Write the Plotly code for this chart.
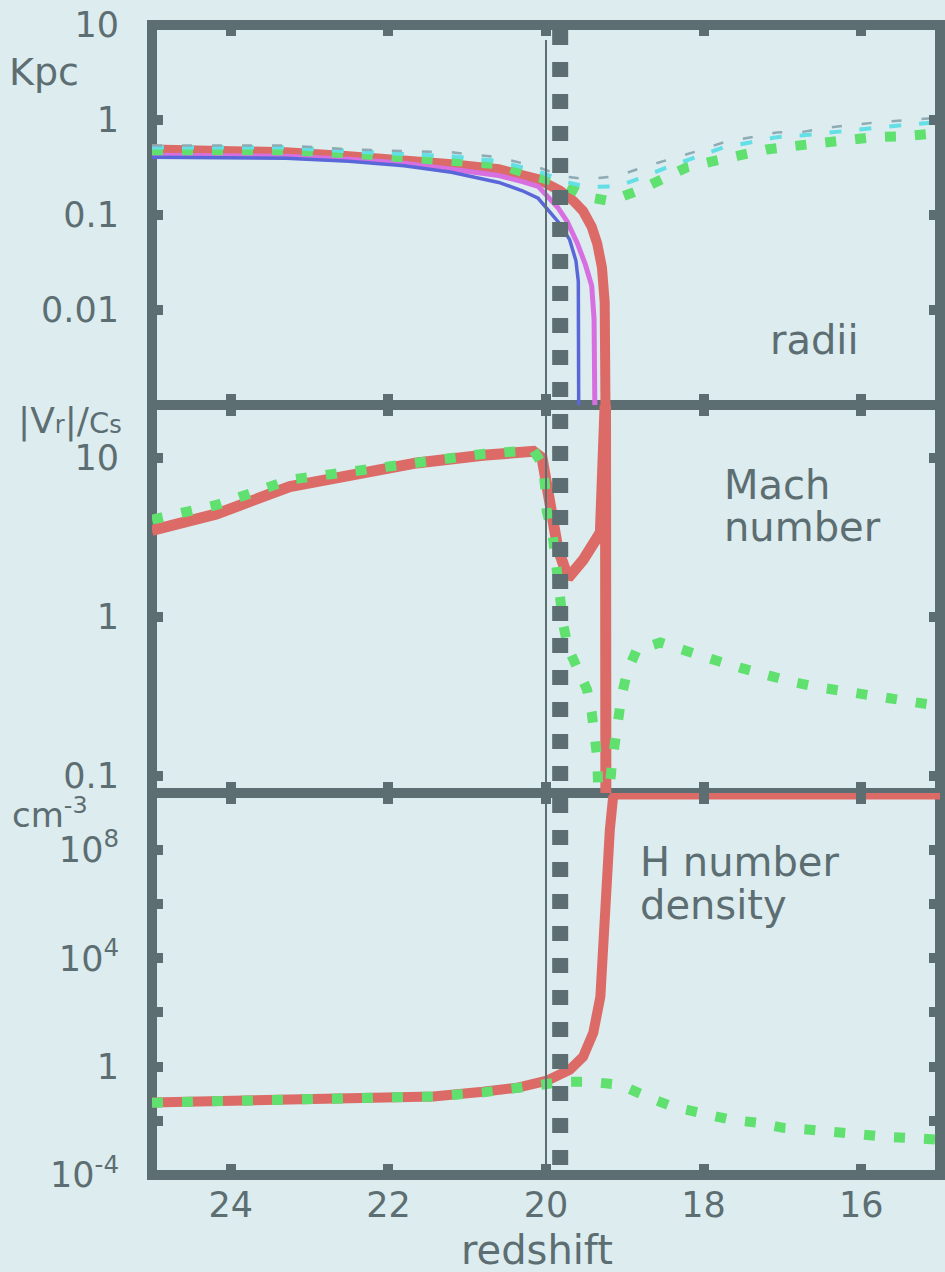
import plotly.graph_objects as go

# ---------------- data ----------------
# Top panel: radii (Kpc)
z_red_r = [25, 23.3, 22.5, 21.8, 21.2, 20.6, 20.3, 20.1, 20.0, 19.82, 19.65, 19.53, 19.42,
           19.35, 19.29, 19.255, 19.245]
r_red = [0.49, 0.457, 0.415, 0.38, 0.342, 0.303, 0.27, 0.238, 0.215, 0.18, 0.14, 0.11, 0.075,
         0.05, 0.028, 0.012, 0.0009]

z_mag_r = [25, 23.3, 22.5, 21.8, 21.2, 20.6, 20.3, 20.1, 19.99, 19.85, 19.73, 19.6, 19.5,
           19.42, 19.39, 19.38]
r_mag = [0.425, 0.415, 0.386, 0.35, 0.303, 0.26, 0.225, 0.2, 0.16, 0.12, 0.085, 0.05, 0.03,
         0.018, 0.008, 0.0009]

z_blue_r = [25, 23.3, 22.5, 21.8, 21.2, 20.6, 20.3, 20.1, 19.95, 19.82, 19.7, 19.62, 19.59,
            19.585]
r_blue = [0.405, 0.395, 0.367, 0.33, 0.282, 0.22, 0.18, 0.15, 0.107, 0.08, 0.055, 0.033, 0.02,
          0.0009]

z_green_r = [25, 23.3, 22.5, 21.2, 20.6, 20.1, 19.82, 19.48, 19.19, 18.85, 18.55, 18.21,
             17.89, 17.54, 17.20, 16.87, 16.52, 16.18, 15.85, 15.51, 15.15, 15.0]
r_green = [0.48, 0.48, 0.446, 0.386, 0.342, 0.25, 0.22, 0.155, 0.14, 0.178, 0.24, 0.318,
           0.367, 0.435, 0.49, 0.53, 0.58, 0.60, 0.66, 0.67, 0.72, 0.73]

z_cyan_r = [25, 23.3, 22.5, 21.2, 20.6, 20.1, 19.78, 19.48, 19.10, 18.77, 18.43, 18.09,
            17.75, 17.41, 17.07, 16.74, 16.40, 16.05, 15.72, 15.38, 15.09, 15.0]
r_cyan = [0.515, 0.515, 0.468, 0.415, 0.367, 0.289, 0.227, 0.197, 0.20, 0.25, 0.326, 0.415,
          0.515, 0.58, 0.66, 0.69, 0.74, 0.79, 0.855, 0.90, 0.94, 0.95]

z_gray_r = [25, 23.3, 22.5, 21.2, 20.6, 20.1, 19.78, 19.48, 19.10, 18.77, 18.43, 18.09,
            17.75, 17.41, 17.07, 16.74, 16.40, 16.05, 15.72, 15.38, 15.0]
r_gray = [0.54, 0.54, 0.49, 0.457, 0.405, 0.318, 0.256, 0.238, 0.256, 0.318, 0.386, 0.468,
          0.58, 0.66, 0.74, 0.75, 0.835, 0.90, 0.96, 1.0, 1.06]

# Middle panel: Mach number |Vr|/Cs
z_red_m = [25, 24.18, 23.25, 22.49, 21.64, 20.8, 20.16, 20.05, 19.99, 19.92, 19.85, 19.72,
           19.53, 19.31, 19.29, 19.27, 19.245, 19.24]
m_red = [3.5, 4.45, 6.6, 7.8, 9.3, 10.4, 11.0, 10.0, 7.1, 4.4, 2.7, 1.76,
         2.28, 3.4, 8.8, 25, 25, 0.05]

z_green_m = [25, 24.18, 23.25, 22.49, 21.64, 20.8, 20.16, 20.04, 20.01, 19.99, 19.92, 19.89,
             19.82, 19.78, 19.72, 19.59, 19.48, 19.42, 19.38, 19.35, 19.34, 19.19, 19.16,
             19.12, 19.10, 19.04, 18.97, 18.85, 18.55, 18.21, 17.88, 17.54, 17.20, 16.87,
             16.52, 16.18, 15.85, 15.51, 15.17, 15.0]
m_green = [4.1, 5.06, 7.3, 8.2, 9.4, 10.6, 11.2, 9.0, 6.5, 4.6, 3.4, 2.45,
           1.24, 0.89, 0.64, 0.48, 0.35, 0.25, 0.18, 0.13, 0.091, 0.087, 0.123,
           0.17, 0.235, 0.32, 0.45, 0.62, 0.69, 0.6, 0.54, 0.48, 0.43, 0.39,
           0.36, 0.34, 0.32, 0.30, 0.28, 0.275]

# Bottom panel: H number density (cm^-3)
z_red_n = [25, 22.9, 21.43, 20.8, 20.37, 19.99, 19.70, 19.53, 19.40, 19.31, 19.28, 19.23,
           19.19, 19.15, 19.12, 15.0]
n_red = [0.0473, 0.0596, 0.0794, 0.1175, 0.166, 0.302, 0.759, 2.29, 17.8, 380, 2.6e4, 7.9e6,
         5.5e8, 8.0e9, 1.1e10, 1.1e10]

z_green_n = [25, 22.9, 21.43, 20.8, 20.37, 19.99, 19.78, 19.44, 19.06, 18.72, 18.39, 18.05,
             17.66, 17.32, 16.99, 16.65, 16.31, 15.98, 15.63, 15.25, 15.0]
n_green = [0.0468, 0.0589, 0.0794, 0.112, 0.151, 0.224, 0.275, 0.275, 0.214, 0.0776, 0.0331,
           0.02, 0.011, 0.0085, 0.0055, 0.0047, 0.0036, 0.003, 0.0025, 0.0022, 0.002]

x_ticks = [24, 22, 20, 18, 16]
x_ticklabels = ["24", "22", "20", "18", "16"]
y1_ticks = [10, 1, 0.1, 0.01]
y1_ticklabels = ["10", "1", "0.1", "0.01"]
y2_ticks = [10, 1, 0.1]
y2_ticklabels = ["10", "1", "0.1"]
y3_ticks = [1e8, 1e6, 1e4, 1e2, 1, 1e-2, 1e-4]
y3_ticklabels = ["10<sup>8</sup>", "", "10<sup>4</sup>", "", "1", "", "10<sup>-4</sup>"]

z_collapse = 19.82   # thick dashed marker line
z_ref = 20.0         # thin reference line

# ---------------- style ----------------
BG = "#dcecef"
DARK = "#5d6e72"
RED = "#dc6b67"
GREEN = "#5fe06f"
BLUE = "#5a67d8"
MAG = "#d86fe0"
CYAN = "#63dfe6"
GRAY = "#8eaab2"
FONT = "DejaVu Sans"

W, H = 945, 1272
ML, MR, MT, MB = 152, 5, 25, 97
PH = H - MT - MB

def py(pix):
    return (H - MB - pix) / PH

dom_top = [py(405), 1.0]
dom_mid = [py(793), py(405)]
dom_bot = [0.0, py(793)]

fig = go.Figure()

def add(x, y, color, width, dash, xa, ya):
    fig.add_trace(go.Scatter(x=x, y=y, mode="lines", xaxis=xa, yaxis=ya,
                             line=dict(color=color, width=width, dash=dash),
                             hoverinfo="skip", showlegend=False))

# top
add(z_red_r, r_red, RED, 10, "solid", "x", "y")
add(z_mag_r, r_mag, MAG, 5, "solid", "x", "y")
add(z_blue_r, r_blue, BLUE, 3.5, "solid", "x", "y")
add(z_green_r, r_green, GREEN, 10, "11px,19px", "x", "y")
add(z_cyan_r, r_cyan, CYAN, 4, "12px,18px", "x", "y")
add(z_gray_r, r_gray, GRAY, 2.5, "10px,20px", "x", "y")
# middle
add(z_red_m, m_red, RED, 11, "solid", "x2", "y2")
add(z_green_m, m_green, GREEN, 10, "11px,19px", "x2", "y2")
# bottom
add(z_red_n, n_red, RED, 10, "solid", "x3", "y3")
add(z_green_n, n_green, GREEN, 10, "11px,19px", "x3", "y3")

xcommon = dict(range=[25, 15], tickvals=x_ticks, ticktext=x_ticklabels, ticks="inside",
               ticklen=11, tickwidth=10, tickcolor=DARK, mirror="ticks", showline=False,
               showgrid=False, zeroline=False, domain=[0, 1],
               tickfont=dict(family=FONT, size=35, color=DARK))
ycommon = dict(type="log", ticks="inside", ticklen=11, tickwidth=10, tickcolor=DARK,
               mirror="ticks", showline=False, showgrid=False, zeroline=False,
               tickfont=dict(family=FONT, size=35, color=DARK), ticklabelstandoff=32)

fig.update_layout(
    xaxis=dict(xcommon, anchor="y", showticklabels=False),
    xaxis2=dict(xcommon, anchor="y2", showticklabels=False, matches="x"),
    xaxis3=dict(xcommon, anchor="y3", showticklabels=True, matches="x", ticklabelstandoff=6),
    yaxis=dict(ycommon, anchor="x", domain=dom_top, range=[-3, 1],
               tickvals=y1_ticks, ticktext=y1_ticklabels),
    yaxis2=dict(ycommon, anchor="x2", domain=dom_mid, range=[-1.107, 1.333],
                tickvals=y2_ticks, ticktext=y2_ticklabels),
    yaxis3=dict(ycommon, anchor="x3", domain=dom_bot, range=[-4, 10.1],
                tickvals=y3_ticks, ticktext=y3_ticklabels),
    width=W, height=H,
    margin=dict(l=ML, r=MR, t=MT, b=MB),
    paper_bgcolor=BG, plot_bgcolor="rgba(0,0,0,0)",
    showlegend=False,
)

shapes = []
for d in (dom_top, dom_mid, dom_bot):
    shapes.append(dict(type="rect", xref="paper", yref="paper", x0=0, x1=1, y0=d[0], y1=d[1],
                       line=dict(color=DARK, width=10), layer="below"))
shapes.append(dict(type="line", xref="x3", yref="paper", x0=z_ref, x1=z_ref,
                   y0=py(40), y1=0, line=dict(color=DARK, width=2), layer="above"))
shapes.append(dict(type="line", xref="x3", yref="paper", x0=z_collapse, x1=z_collapse,
                   y0=py(30), y1=py(1170), line=dict(color=DARK, width=16, dash="15px,17px"),
                   layer="above"))
fig.update_layout(shapes=shapes)

def px_x(pix):
    return (pix - ML) / (W - ML - MR)

ann_font = dict(family=FONT, size=40, color=DARK)
anns = [
    dict(text="Kpc", x=px_x(44), y=py(72), xanchor="center", yanchor="middle"),
    dict(text="|V<span style='font-size:24px'>r</span>|/<span style='font-size:29px'>C</span><span style='font-size:24px'>s</span>",
         x=px_x(70), y=py(421), xanchor="center", yanchor="middle"),
    dict(text="cm<sup>-3</sup>", x=px_x(50), y=py(813), xanchor="center", yanchor="middle"),
    dict(text="redshift", x=px_x(537), y=py(1250), xanchor="center", yanchor="middle"),
    dict(text="radii", x=px_x(768), y=py(340), xanchor="left", yanchor="middle"),
    dict(text="Mach", x=px_x(722), y=py(485), xanchor="left", yanchor="middle"),
    dict(text="number", x=px_x(722), y=py(527), xanchor="left", yanchor="middle"),
    dict(text="H number", x=px_x(638), y=py(862), xanchor="left", yanchor="middle"),
    dict(text="density", x=px_x(638), y=py(905), xanchor="left", yanchor="middle"),
]
sizes = [38, 36, 34]
for i, a in enumerate(anns):
    f = dict(ann_font)
    if i < 3:
        f["size"] = sizes[i]
    a.update(xref="paper", yref="paper", showarrow=False, font=f)
fig.update_layout(annotations=anns)

fig.write_html(
    "out.html",
    config={"displayModeBar": False},
    post_script="document.body.style.margin='0';document.body.style.background='#dcecef';",
)
